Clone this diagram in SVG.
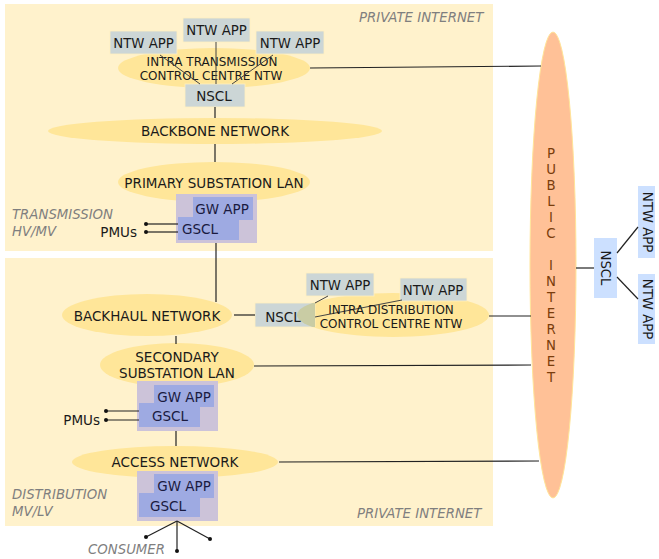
<svg xmlns="http://www.w3.org/2000/svg" width="659" height="559" viewBox="0 0 659 559">
<defs>
<style>
text{font-family:"DejaVu Sans","Liberation Sans",sans-serif;font-size:13.5px;fill:#1a1a1a;text-anchor:middle;dominant-baseline:central}
.panel{fill:#fff2cc}
.ell{fill:#ffe699}
.app{fill:#ccd6d6;stroke:#fff0c0;stroke-width:0.8}
.gwo{fill:#ccc3d9}
.gw{fill:#9eaae2}
.gwt{fill:#1a1a40}
.lbl{font-style:italic;fill:#7f7f7f;text-anchor:start;font-size:13.3px}
.ln{stroke:#222;stroke-width:1.2;fill:none}
.thin{stroke:#444;stroke-width:1;fill:none}
.dot{fill:#111}
.pub{fill:#ffc197;stroke:#ffe599;stroke-width:1}
.pubt{fill:#7a3d0c;font-size:13.3px}
.blue{fill:#cce0ff}
.sm{font-size:12px}
.ap{font-size:13.3px}
</style>
<clipPath id="nsclClip"><rect x="255" y="303" width="60" height="24"/></clipPath>
</defs>

<g id="panels">
<rect class="panel" x="5" y="4" width="488" height="247"/>
<rect class="panel" x="5" y="258" width="488" height="268"/>
<text class="lbl" x="359" y="17">PRIVATE INTERNET</text>
<text class="lbl" x="12" y="214">TRANSMISSION</text>
<text class="lbl" x="12" y="231">HV/MV</text>
<text class="lbl" x="12" y="494">DISTRIBUTION</text>
<text class="lbl" x="12" y="511">MV/LV</text>
<text class="lbl" x="357" y="513">PRIVATE INTERNET</text>
<text class="lbl" x="88" y="549">CONSUMER</text>
</g>

<g id="public-internet">
<ellipse class="pub" cx="553" cy="265" rx="23" ry="233"/>
<text class="pubt" x="551" y="153">P</text>
<text class="pubt" x="551" y="169">U</text>
<text class="pubt" x="551" y="185">B</text>
<text class="pubt" x="551" y="201">L</text>
<text class="pubt" x="551" y="217">I</text>
<text class="pubt" x="551" y="233">C</text>
<text class="pubt" x="551" y="265">I</text>
<text class="pubt" x="551" y="281">N</text>
<text class="pubt" x="551" y="297">T</text>
<text class="pubt" x="551" y="313">E</text>
<text class="pubt" x="551" y="329">R</text>
<text class="pubt" x="551" y="345">N</text>
<text class="pubt" x="551" y="361">E</text>
<text class="pubt" x="551" y="377">T</text>
</g>

<g id="intra-transmission">
<ellipse class="ell" cx="214" cy="68" rx="96" ry="20"/>
<text class="sm" x="212" y="62">INTRA TRANSMISSION</text>
<text class="sm" x="211" y="76">CONTROL CENTRE NTW</text>
</g>
<g id="ntwapp-t1"><rect class="app" x="110" y="31" width="67" height="23"/><text class="ap" x="143.5" y="43">NTW APP</text></g>
<g id="ntwapp-t2"><rect class="app" x="183" y="18" width="67" height="24"/><text class="ap" x="216.5" y="30">NTW APP</text></g>
<g id="ntwapp-t3"><rect class="app" x="256" y="31" width="68" height="23"/><text class="ap" x="290" y="43">NTW APP</text></g>
<g id="nscl-t"><rect class="app" x="185" y="84" width="60" height="23"/><text x="214" y="96">NSCL</text></g>

<g id="backbone"><ellipse class="ell" cx="215" cy="131" rx="167" ry="13"/><text x="215" y="131">BACKBONE NETWORK</text></g>
<g id="primary-lan"><ellipse class="ell" cx="214" cy="182" rx="96" ry="20"/><text x="214" y="183">PRIMARY SUBSTATION LAN</text></g>

<g id="gw-primary">
<rect class="gwo" x="176" y="194" width="81" height="49"/>
<rect class="gw" x="193" y="197" width="60" height="23"/>
<rect class="gw" x="178" y="217" width="61" height="23"/>
<text class="gwt" x="222" y="209">GW APP</text>
<text class="gwt" x="200" y="229">GSCL</text>
</g>
<g id="pmus-1"><text x="137" y="232" style="text-anchor:end">PMUs</text></g>

<g id="backhaul"><ellipse class="ell" cx="147" cy="315" rx="85" ry="21"/><text x="147" y="316">BACKHAUL NETWORK</text></g>

<g id="intra-distribution">
<ellipse class="ell" cx="393" cy="315" rx="96" ry="22"/>
</g>
<g id="nscl-d">
<rect class="app" x="255" y="303" width="60" height="24"/>
<ellipse cx="393" cy="315" rx="96" ry="22" fill="#c9cca4" clip-path="url(#nsclClip)"/>
<text x="283" y="317">NSCL</text>
</g>
<g id="ntwapp-d1"><rect class="app" x="306" y="273" width="68" height="23"/><text class="ap" x="340" y="285">NTW APP</text></g>
<g id="ntwapp-d2"><rect class="app" x="400" y="278" width="67" height="23"/><text class="ap" x="433" y="290">NTW APP</text></g>

<g id="secondary-lan"><ellipse class="ell" cx="177" cy="365" rx="77" ry="22"/><text x="177" y="357">SECONDARY</text><text x="177" y="373">SUBSTATION LAN</text></g>

<g id="gw-secondary">
<rect class="gwo" x="137" y="381" width="81" height="50"/>
<rect class="gw" x="154" y="385" width="60" height="22"/>
<rect class="gw" x="139" y="403" width="61" height="24"/>
<text class="gwt" x="184" y="397">GW APP</text>
<text class="gwt" x="170" y="416">GSCL</text>
</g>
<g id="pmus-2"><text x="100" y="420" style="text-anchor:end">PMUs</text></g>

<g id="access"><ellipse class="ell" cx="175" cy="462" rx="103" ry="16"/><text x="175" y="462">ACCESS NETWORK</text></g>

<g id="gw-consumer">
<rect class="gwo" x="137" y="471" width="81" height="50"/>
<rect class="gw" x="154" y="474" width="60" height="24"/>
<rect class="gw" x="139" y="493" width="61" height="24"/>
<text class="gwt" x="184" y="486">GW APP</text>
<text class="gwt" x="168" y="506">GSCL</text>
</g>

<g id="nscl-public"><rect class="blue" x="594" y="238" width="23" height="60"/><text class="ap" transform="translate(605.5,268) rotate(90)">NSCL</text></g>
<g id="ntwapp-p1"><rect class="blue" x="638" y="186" width="17" height="72"/><text class="ap" transform="translate(647,222) rotate(90)">NTW APP</text></g>
<g id="ntwapp-p2"><rect class="blue" x="638" y="274" width="17" height="70"/><text class="ap" transform="translate(647,309) rotate(90)">NTW APP</text></g>

<g id="connectors">
<line class="thin" x1="160" y1="55" x2="200" y2="84"/>
<line class="thin" x1="216" y1="42" x2="216" y2="84"/>
<line class="thin" x1="273" y1="55" x2="232" y2="84"/>
<line class="ln" x1="215" y1="107" x2="215" y2="118"/>
<line class="ln" x1="310" y1="68" x2="541" y2="66"/>
<line class="ln" x1="215" y1="144" x2="215" y2="162"/>
<line class="ln" x1="216" y1="243" x2="216" y2="302"/>
<line class="ln" x1="146" y1="224" x2="178" y2="224"/>
<line class="ln" x1="146" y1="232" x2="178" y2="232"/>
<circle class="dot" cx="146" cy="224" r="2"/>
<circle class="dot" cx="146" cy="232" r="2"/>
<line class="ln" x1="234" y1="315" x2="255" y2="315"/>
<line class="thin" x1="315" y1="303" x2="328" y2="296"/>
<line class="thin" x1="315" y1="317" x2="402" y2="300"/>
<line class="ln" x1="489" y1="316" x2="531" y2="316"/>
<line class="ln" x1="176" y1="336" x2="176" y2="344"/>
<line class="ln" x1="254" y1="366" x2="531" y2="365"/>
<line class="ln" x1="106" y1="411" x2="139" y2="411"/>
<line class="ln" x1="106" y1="420" x2="139" y2="420"/>
<circle class="dot" cx="106" cy="411" r="2"/>
<circle class="dot" cx="106" cy="420" r="2"/>
<line class="ln" x1="176" y1="431" x2="176" y2="446"/>
<line class="ln" x1="279" y1="462" x2="539" y2="461"/>
<line class="ln" x1="177" y1="521" x2="146" y2="537"/>
<line class="ln" x1="177" y1="521" x2="210" y2="539"/>
<line class="ln" x1="177" y1="521" x2="177" y2="551"/>
<circle class="dot" cx="146" cy="537" r="2"/>
<circle class="dot" cx="210" cy="539" r="2"/>
<circle class="dot" cx="177" cy="551" r="2"/>
<line class="ln" x1="576" y1="268" x2="594" y2="268"/>
<line class="ln" x1="617" y1="253" x2="638" y2="227"/>
<line class="ln" x1="617" y1="277" x2="638" y2="299"/>
</g>

<g id="intra-distribution-label">
<text class="sm" x="391" y="310">INTRA DISTRIBUTION</text>
<text class="sm" x="391" y="324">CONTROL CENTRE NTW</text>
</g>
</svg>
